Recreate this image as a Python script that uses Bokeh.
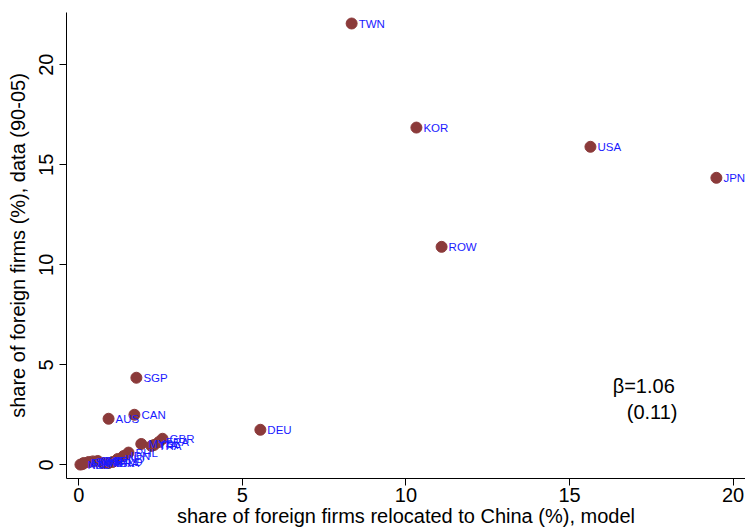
import math
from bokeh.plotting import figure
from bokeh.models import ColumnDataSource, Label, FixedTicker
from bokeh.core.properties import value
from bokeh.embed import file_html
from bokeh.resources import INLINE

countries = ["TWN", "KOR", "USA", "JPN", "ROW", "DEU", "SGP", "CAN", "AUS",
             "GBR", "FRA", "ITA", "THA", "MYS", "PHL", "IDN", "IND", "NLD",
             "BRA", "MEX", "ESP", "CHE", "SWE", "FIN", "NZL", "AUT"]
model_share = [8.34, 10.32, 15.64, 19.49, 11.09, 5.55, 1.76, 1.70, 0.91,
               2.56, 2.45, 2.30, 2.22, 1.91, 1.52, 1.37, 1.19, 1.03,
               0.91, 0.73, 0.58, 0.43, 0.30, 0.15, 0.05, 0.12]
data_share = [22.06, 16.86, 15.90, 14.35, 10.90, 1.76, 4.36, 2.51, 2.31,
              1.31, 1.15, 1.00, 0.95, 1.05, 0.62, 0.45, 0.30, 0.15,
              0.10, 0.10, 0.20, 0.18, 0.15, 0.10, 0.02, 0.05]
ticks = [0, 5, 10, 15, 20]

src = ColumnDataSource(dict(x=model_share, y=data_share, name=countries))

p = figure(width=745, height=531, output_backend="svg", toolbar_location=None,
           x_range=(-0.376, 20.38), y_range=(-0.675, 22.61),
           min_border_left=66, min_border_right=0, min_border_top=12,
           min_border_bottom=53)
p.outline_line_color = None
p.xgrid.visible = False
p.ygrid.visible = False
p.background_fill_color = "white"
p.border_fill_color = "white"

p.scatter("x", "y", source=src, size=11, fill_color="#8B3A3A",
          line_color="#8B3A3A")
p.text("x", "y", text="name", source=src, x_offset=7, text_baseline="middle",
       text_align="left", text_font_size="11.5px", text_color="#1a1aff",
       text_font=value("Liberation Sans"))

for ax in (p.xaxis[0], p.yaxis[0]):
    ax.ticker = FixedTicker(ticks=ticks)
    ax.minor_tick_line_color = None
    ax.major_tick_out = 7
    ax.major_tick_in = 0
    ax.axis_line_color = "black"
    ax.major_tick_line_color = "black"
    ax.major_label_text_font = "Liberation Sans"
    ax.major_label_text_font_size = "20px"
    ax.major_label_text_color = "black"
    ax.axis_label_text_font = "Liberation Sans"
    ax.axis_label_text_font_size = "20px"
    ax.axis_label_text_font_style = "normal"
    ax.axis_label_text_color = "black"

p.xaxis.axis_label = "share of foreign firms relocated to China (%), model"
p.yaxis.axis_label = "share of foreign firms (%), data (90-05)"
p.yaxis.major_label_orientation = "vertical"
p.xaxis.major_label_standoff = 2
p.xaxis.axis_label_standoff = 0
p.yaxis.major_label_standoff = 6
p.yaxis.axis_label_standoff = 8

p.add_layout(Label(x=16.32, y=3.96, text="β=1.06", text_font="Liberation Sans",
                   text_font_size="20px", text_baseline="middle", text_color="black"))
p.add_layout(Label(x=16.75, y=2.66, text="(0.11)", text_font="Liberation Sans",
                   text_font_size="20px", text_baseline="middle", text_color="black"))

open("out.html", "w").write(file_html(p, INLINE))
